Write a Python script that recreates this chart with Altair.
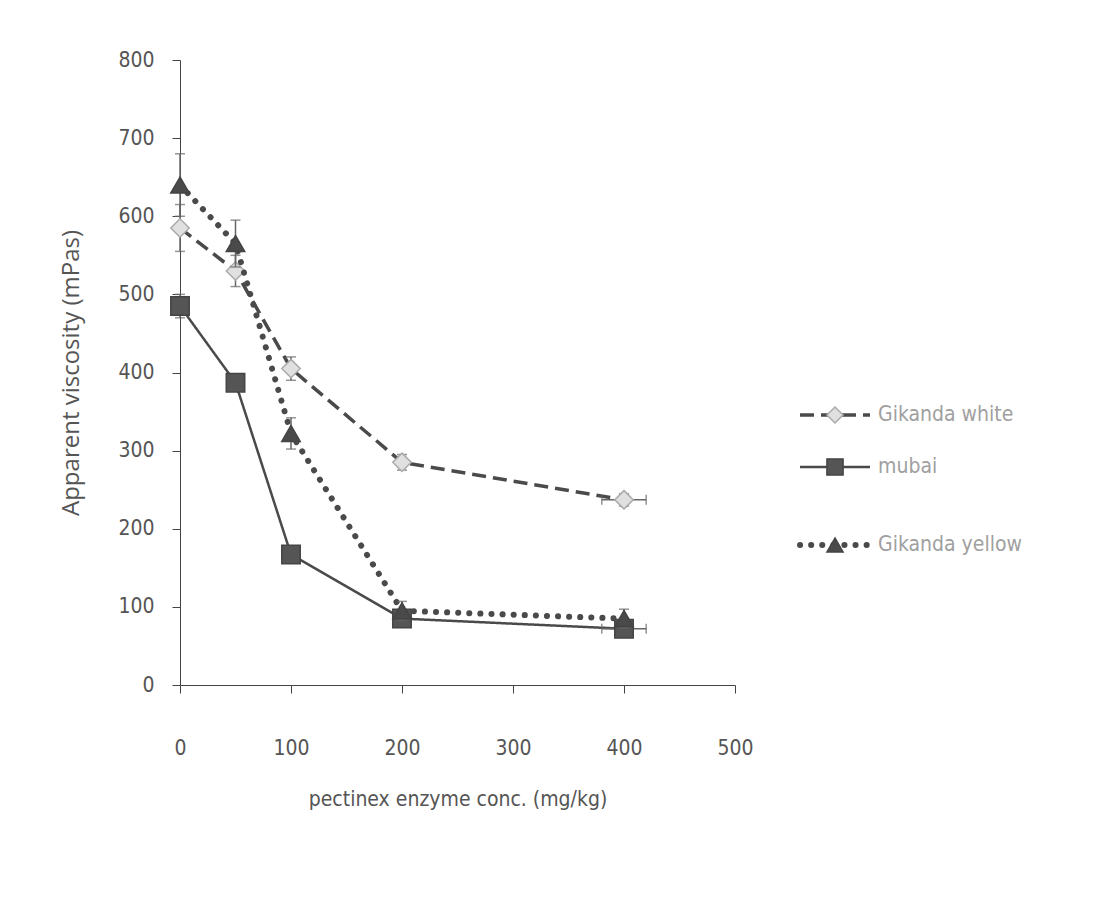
import altair as alt
import pandas as pd

conc = [0, 50, 100, 200, 400]
series_names = ["Gikanda white", "mubai", "Gikanda yellow"]
white = [585, 530, 405, 285, 237]
mubai = [485, 387, 167, 85, 72]
yellow = [640, 565, 322, 95, 85]
white_err = [30, 20, 15, 10, 8]
mubai_err = [15, 10, 8, 6, 6]
yellow_err = [40, 30, 20, 12, 12]
x_err_white = [0, 0, 0, 0, 20]
x_err_mubai = [0, 0, 0, 0, 20]

rows = []
for name, vals, errs, xerrs in [
    (series_names[0], white, white_err, x_err_white),
    (series_names[1], mubai, mubai_err, x_err_mubai),
    (series_names[2], yellow, yellow_err, [0] * 5),
]:
    for c, v, e, xe in zip(conc, vals, errs, xerrs):
        rows.append({"conc": c, "visc": v, "err": e, "xerr": xe, "series": name})
df = pd.DataFrame(rows)

FONT = "DejaVu Sans Condensed, Roboto Condensed, Liberation Sans Narrow, Roboto, sans-serif"
GRAY = "#555555"

xs = alt.Scale(domain=[0, 500])
ys = alt.Scale(domain=[0, 800])
XT = "pectinex enzyme conc. (mg/kg)"
YT = "Apparent viscosity (mPas)"
X = alt.X("conc:Q", scale=xs, title=XT, axis=alt.Axis(values=[0, 100, 200, 300, 400, 500],
                                             grid=False, domainColor="#444", tickColor="#444", tickSize=8,
                                             labelFontSize=21, labelColor=GRAY, labelFont=FONT, labelPadding=44,
                                             labelFlush=False,
                                             titleFont=FONT, titleFontSize=21, titleColor=GRAY, titlePadding=30,
                                             titleFontWeight="normal"))
Y = alt.Y("visc:Q", scale=ys, title=YT, axis=alt.Axis(values=[0, 100, 200, 300, 400, 500, 600, 700, 800],
                                             grid=False, labelFlush=False,
                                             domainColor="#444", tickColor="#444", tickSize=8,
                                             labelFontSize=21, labelColor=GRAY, labelFont=FONT, labelPadding=18,
                                             titleFont="Open Sans", titleFontSize=24, titleColor=GRAY, titlePadding=34,
                                             titleFontWeight="normal"))

styles = {
    series_names[0]: dict(dash=[14, 7], width=3.5, shape="diamond", fill="#e0e0e0", stroke="#aaaaaa", cap="butt"),
    series_names[1]: dict(dash=[1, 0], width=2.5, shape="square", fill="#555555", stroke="#444444", cap="butt"),
    series_names[2]: dict(dash=[0.1, 11], width=6, shape="triangle-up", fill="#4a4a4a", stroke="#444444", cap="round"),
}

layers = []
for name in series_names:
    st = styles[name]
    d = df[df.series == name]
    base = alt.Chart(d)
    layers.append(base.mark_line(color="#4a4a4a", strokeWidth=st["width"], strokeDash=st["dash"],
                                 strokeCap=st["cap"]).encode(x=X, y=Y))
    layers.append(base.mark_errorbar(ticks=alt.TickConfig(size=10), color="#666666", thickness=1.5).encode(
        x=X, y=Y, yError="err:Q"))
    dx = d[d.xerr > 0]
    if len(dx):
        layers.append(alt.Chart(dx).mark_errorbar(ticks=alt.TickConfig(size=10), color="#666666", thickness=1.5).encode(
            x=X, xError="xerr:Q", y=Y))
    layers.append(base.mark_point(shape=st["shape"], filled=True, size=340, fill=st["fill"],
                                  stroke=st["stroke"], strokeWidth=1.5, opacity=1).encode(x=X, y=Y))

# legend
leg_y = [355, 407, 485]
for i, name in enumerate(series_names):
    st = styles[name]
    ld = pd.DataFrame({"series": [name]})
    b = alt.Chart(ld)
    layers.append(b.mark_rule(color="#4a4a4a", strokeWidth=st["width"], strokeDash=st["dash"], strokeCap=st["cap"]).encode(
        x=alt.value(620), x2=alt.value(690), y=alt.value(leg_y[i])))
    layers.append(b.mark_point(shape=st["shape"], filled=True, size=260, fill=st["fill"], stroke=st["stroke"],
                               strokeWidth=1.5, opacity=1).encode(x=alt.value(655), y=alt.value(leg_y[i])))
    layers.append(b.mark_text(align="left", baseline="middle", font=FONT, fontSize=21, color="#a0a0a0").encode(
        x=alt.value(698), y=alt.value(leg_y[i]), text="series:N"))

chart = alt.layer(*layers).properties(
    width=555, height=625,
    background="white",
    autosize=alt.AutoSizeParams(type="none"),
    padding={"left": 172, "top": 52, "right": 360, "bottom": 200},
).configure_view(stroke="transparent", strokeWidth=0)

chart.save("out.html", embed_options={"renderer": "svg", "actions": False})
